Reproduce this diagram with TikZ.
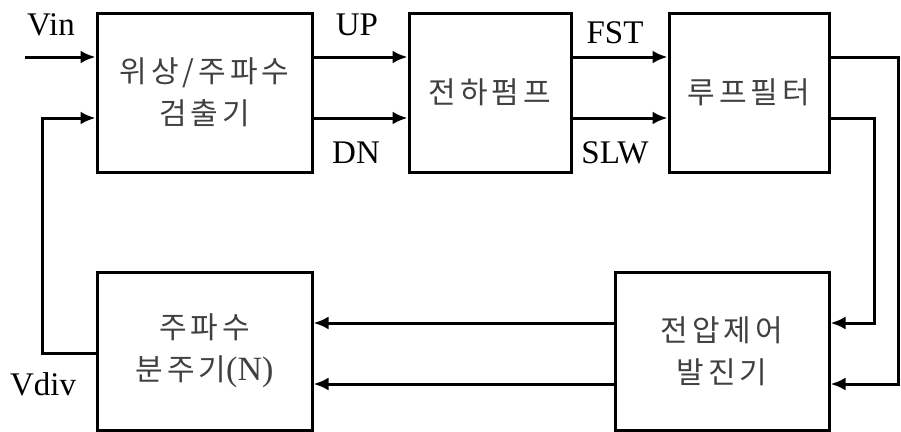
\documentclass[tikz,border=0pt]{standalone}
\usepackage{fontspec}
\setmainfont{Liberation Serif}
\newfontfamily\kr[LetterSpace=13]{Noto Sans CJK KR}
\usetikzlibrary{arrows.meta}

\begin{document}
\begin{tikzpicture}[x=1pt,y=-1pt,
  blk/.style={draw, line width=3pt, inner sep=0pt, align=center,
    text=black!75, font=\kr\fontsize{30}{42}\selectfont},
  wire/.style={line width=3pt},
  arr/.style={wire, -{Latex[length=15pt,width=13pt]}},
  lbl/.style={font=\fontsize{33}{38}\selectfont, inner sep=0pt, anchor=base}]

  \useasboundingbox (0,0) rectangle (901,431);

  % blocks of the PLL
  \node[blk, minimum width=215pt, minimum height=159pt] (b1) at (204.5,92.5) {위상/주파수\\검출기};
  \node[blk, minimum width=162pt, minimum height=159pt] (b2) at (490,92.5) {전하펌프};
  \node[blk, minimum width=160pt, minimum height=159pt] (b3) at (749,92.5) {루프필터};
  \node[blk, minimum width=215pt, minimum height=158pt] (b4) at (204.5,351) {주파수\\분주기{\rmfamily\fontsize{34}{42}\selectfont (N)}};
  \node[blk, minimum width=214pt, minimum height=158pt] (b5) at (722,351) {전압제어\\발진기};

  % signal levels and corners
  \coordinate (vin) at (25,57);
  \coordinate (dn) at (0,118);
  \coordinate (fb) at (42,118);
  \coordinate (rI) at (874,323);
  \coordinate (rO) at (898,384);

  % forward path
  \draw[arr] (vin) -- (vin -| b1.west);
  \draw[arr] (b1.east |- vin) -- (b2.west |- vin);
  \draw[arr] (b1.east |- dn) -- (b2.west |- dn);
  \draw[arr] (b2.east |- vin) -- (b3.west |- vin);
  \draw[arr] (b2.east |- dn) -- (b3.west |- dn);

  % loop filter to VCO
  \draw[arr] (b3.east |- vin) -| (rO) -- (rO -| b5.east);
  \draw[arr] (b3.east |- dn) -| (rI) -- (rI -| b5.east);

  % VCO to divider
  \draw[arr] (b5.west |- rI) -- (b4.east |- rI);
  \draw[arr] (b5.west |- rO) -- (b4.east |- rO);

  % divider feedback
  \draw[arr] ([yshift=-2pt]b4.west) -| (fb) -- (fb -| b1.west);

  % signal names
  \node[lbl] (lvin) at (51,35) {Vin};
  \node[lbl] (lup) at (357,35) {UP};
  \node[lbl] (ldn) at (356,163) {DN};
  \node[lbl] (lfst) at (615,43) {FST};
  \node[lbl] (lslw) at (615,163) {SLW};
  \node[lbl] (lvdiv) at (43,395) {Vdiv};
\end{tikzpicture}
\end{document}
